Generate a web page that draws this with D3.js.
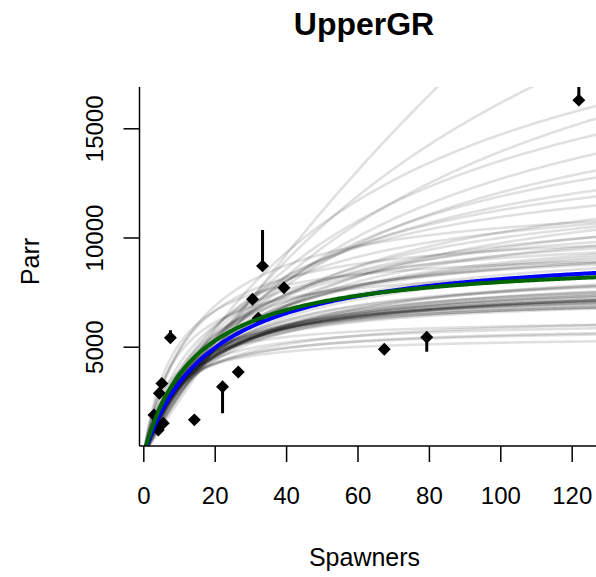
<!DOCTYPE html>
<html>
<head>
<meta charset="utf-8">
<script src="https://cdn.jsdelivr.net/npm/d3@7"></script>
<style>
  html, body { margin: 0; padding: 0; background: #fff; }
  svg { display: block; font-family: "Liberation Sans", Arial, sans-serif; }
</style>
</head>
<body>
<svg id="chart" width="596" height="577"></svg>
<script>
// Observed spawners and parr, with the far end of each uncertainty bar (null = no bar)
const spawners   = [3.0, 4.2, 4.5, 5.2, 5.6, 7.6, 14.3, 22.2, 26.6, 30.6, 32.2, 33.4, 39.4, 67.5, 79.4, 122.0];
const parr       = [1870, 1190, 2870, 3320, 1500, 5410, 1650, 3170, 3840, 7170, 6300, 8700, 7700, 4880, 5430, 16290];
const parrBarEnd = [null, null, null, null, null, 5750, null, 1950, null, null, null, 10340, null, null, 4770, 17600];

// Beverton-Holt posterior draws: productivity (alpha) and capacity (Rmax)
const drawAlpha = [900, 700, 800, 600, 1000, 760,
                   600, 500, 650, 550, 700, 450, 520, 600, 480, 750, 580, 420, 640, 530, 470, 560, 610, 490, 680, 540,
                   560, 620, 500, 590, 540, 660, 510, 575,
                   500, 450, 550, 400, 600, 480, 380, 520, 430, 350, 650, 460, 560, 410, 700, 470, 480, 530,
                   400, 330, 350, 300, 380, 260, 300, 450, 500, 370, 320,
                   1100, 900, 1000, 800];
const drawRmax  = [5500, 6000, 6200, 6500, 6300, 5900,
                   8000, 8500, 7800, 8200, 7600, 9000, 8000, 7400, 8600, 7300, 8300, 9200, 7700, 8800, 8100, 7900, 7600, 8400, 7500, 8700,
                   7900, 7700, 8300, 7500, 8000, 7400, 8200, 7800,
                   10500, 11000, 11000, 12500, 10000, 12000, 14000, 11500, 13000, 13500, 9800, 10800, 12500, 11800, 10400, 9600, 10000, 10200,
                   16000, 19000, 22000, 26000, 24000, 80000, 35000, 15000, 14000, 17500, 21000,
                   9500, 10500, 8800, 12000];

// Fitted curves
const fitAlpha  = [507, 623];
const fitRmax   = [9632, 9124];
const fitColors = ["#0000ff", "#006400"];

// Axis ticks
const xTicks = [0, 20, 40, 60, 80, 100, 120];
const yTicks = [5000, 10000, 15000];

const svg = d3.select("#chart");

// Plot region
const box = { left: 139.5, right: 596, top: 87, bottom: 446 };

const x = d3.scaleLinear().domain([0, 120]).range([143.3, 571.7]);
const y = d3.scaleLinear().domain([5000, 15000]).range([346.7, 128.3]);

svg.append("defs").append("clipPath").attr("id", "plotClip")
  .append("rect").attr("x", box.left).attr("y", box.top)
  .attr("width", box.right - box.left + 10).attr("height", box.bottom - box.top);

const plot = svg.append("g").attr("clip-path", "url(#plotClip)");

const bh = (a, rmax) => s => a * s / (1 + a * s / rmax);
const sGrid = d3.range(0, 131, 0.5);
const line = f => d3.line().x(s => x(s)).y(s => y(f(s)))(sGrid);

// Observations: bars then diamonds
const obs = spawners.map((s, i) => ({ s, r: parr[i], e: parrBarEnd[i] }));
plot.selectAll("line.bar").data(obs.filter(d => d.e !== null)).join("line")
  .attr("class", "bar")
  .attr("x1", d => x(d.s)).attr("x2", d => x(d.s))
  .attr("y1", d => y(d.r)).attr("y2", d => y(d.e))
  .attr("stroke", "#000").attr("stroke-width", 3);

const diamond = d3.symbol().type(d3.symbolSquare).size(84);
plot.selectAll("path.pt").data(obs).join("path")
  .attr("class", "pt")
  .attr("d", diamond)
  .attr("transform", d => `translate(${x(d.s)},${y(d.r)}) rotate(45)`)
  .attr("fill", "#000");

// Posterior draws
plot.selectAll("path.draw").data(drawAlpha.map((a, i) => bh(a, drawRmax[i]))).join("path")
  .attr("class", "draw")
  .attr("d", f => line(f))
  .attr("fill", "none")
  .attr("stroke", "#000")
  .attr("stroke-opacity", 0.12)
  .attr("stroke-width", 2.6);

// Fitted curves
plot.selectAll("path.fit").data(fitAlpha.map((a, i) => ({ f: bh(a, fitRmax[i]), c: fitColors[i] }))).join("path")
  .attr("class", "fit")
  .attr("d", d => line(d.f))
  .attr("fill", "none")
  .attr("stroke", d => d.c)
  .attr("stroke-width", 4);

// Axes
const xAxis = svg.append("g").attr("transform", `translate(0,${box.bottom})`)
  .call(d3.axisBottom(x).tickValues(xTicks).tickSize(16).tickSizeOuter(0).tickFormat(d3.format("d")));
xAxis.select(".domain").remove();
xAxis.selectAll(".tick line").attr("stroke", "#000").attr("stroke-width", 1.5);
xAxis.selectAll(".tick text").attr("y", 58).attr("dy", 0)
  .attr("font-size", 24).attr("fill", "#000").attr("font-family", "Liberation Sans, Arial, sans-serif");

const yAxis = svg.append("g").attr("transform", `translate(${box.left},0)`)
  .call(d3.axisLeft(y).tickValues(yTicks).tickSize(16).tickSizeOuter(0).tickFormat(d3.format("d")));
yAxis.select(".domain").remove();
yAxis.selectAll(".tick line").attr("stroke", "#000").attr("stroke-width", 1.5);
yAxis.selectAll(".tick text")
  .attr("x", 0).attr("y", 0).attr("dy", 0)
  .attr("transform", "translate(-36.5,0) rotate(-90)")
  .attr("text-anchor", "middle")
  .attr("font-size", 24).attr("fill", "#000").attr("font-family", "Liberation Sans, Arial, sans-serif");

svg.append("line").attr("x1", box.left).attr("x2", box.right).attr("y1", box.bottom).attr("y2", box.bottom)
  .attr("stroke", "#000").attr("stroke-width", 1.5);
svg.append("line").attr("x1", box.left).attr("x2", box.left).attr("y1", box.top).attr("y2", box.bottom)
  .attr("stroke", "#000").attr("stroke-width", 1.5);

// Titles
svg.append("text").attr("x", 364).attr("y", 35).attr("text-anchor", "middle")
  .attr("font-size", 32).attr("font-weight", "bold").attr("fill", "#000").text("UpperGR");
svg.append("text").attr("x", 364.5).attr("y", 566).attr("text-anchor", "middle")
  .attr("font-size", 25).attr("fill", "#000").text("Spawners");
svg.append("text").attr("transform", "translate(38.5,261.5) rotate(-90)").attr("text-anchor", "middle")
  .attr("font-size", 25).attr("fill", "#000").text("Parr");
</script>
</body>
</html>
